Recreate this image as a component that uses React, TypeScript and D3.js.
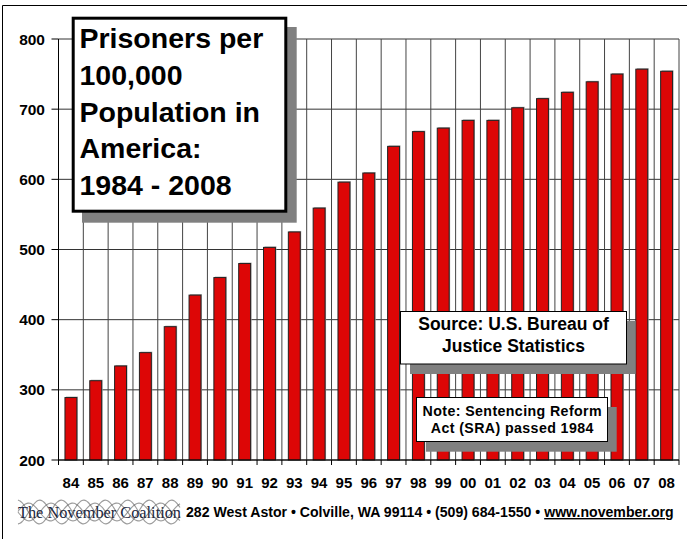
import React from "react";
import * as d3 from "d3";

const years = ["84","85","86","87","88","89","90","91","92","93","94","95","96","97","98","99","00","01","02","03","04","05","06","07","08"];
const rates = [289,313,334,353,390,435,460,480,503,525,559,596,609,647,668,673,684,684,702,715,724,739,750,757,754];
const yTicks = [200,300,400,500,600,700,800];
const titleLines = ["Prisoners per","100,000","Population in","America:","1984 - 2008"];
const sourceLines = ["Source: U.S. Bureau of","Justice Statistics"];
const noteLines = ["Note: Sentencing Reform","Act (SRA) passed 1984"];
const footerLogo = "The November Coalition";
const footerAddress = "282 West Astor \u2022 Colville, WA 99114 \u2022 (509) 684-1550 \u2022 ";
const footerUrl = "www.november.org";

const W = 687, H = 539;
const L = 58.5, R = 679, T = 39, B = 460;
const FONT = "'Liberation Sans', Arial, Helvetica, sans-serif";

export default function App() {
  const x = d3.scaleBand<string>().domain(years).range([L, R]).paddingInner(0.52).paddingOuter(0.26);
  const y = d3.scaleLinear().domain([200, 800]).range([B, T]);
  const step = x.step();
  const bounds = d3.range(years.length + 1).map((i) => L + i * step);

  const wave = d3.line<number>().x((d) => d).curve(d3.curveBasis);
  const waves = [0, 1, 2, 3].map((k) =>
    wave.y((t) => 512 + Math.sin((t - 18) / 7 + k * 1.6) * (9 + (k % 2) * 3))(d3.range(18, 182, 2)) as string
  );

  return (
    <svg width={W} height={H} style={{ position: "absolute", left: 0, top: 0, background: "#fff" }} fontFamily={FONT}>
      {/* outer frame */}
      <line x1={2.5} y1={5.5} x2={W} y2={5.5} stroke="#000" />
      <line x1={2.5} y1={5.5} x2={2.5} y2={H} stroke="#000" />

      {/* horizontal gridlines */}
      {yTicks.map((t) => (
        <line key={"h" + t} x1={L} x2={R} y1={y(t)} y2={y(t)} stroke="#333" strokeWidth={1} />
      ))}
      {/* y tick marks */}
      {yTicks.map((t) => (
        <line key={"yt" + t} x1={L - 7} x2={L} y1={y(t)} y2={y(t)} stroke="#000" />
      ))}
      {/* vertical gridlines */}
      {bounds.map((bx, i) => (
        <line key={"v" + i} x1={bx} x2={bx} y1={T} y2={B} stroke={i === 0 ? "#000" : "#444"} strokeWidth={1} />
      ))}
      {/* x tick marks */}
      {bounds.map((bx, i) => (
        <line key={"xt" + i} x1={bx} x2={bx} y1={B} y2={B + 5} stroke="#000" />
      ))}

      {/* bars */}
      {rates.map((v, i) => {
        const bx = x(years[i]) as number;
        const bw = x.bandwidth();
        return (
          <g key={"b" + i}>
            <rect x={bx + 1} y={y(v) - 1} width={bw} height={B - y(v) + 1} fill="#aaa" />
            <rect x={bx} y={y(v)} width={bw} height={B - y(v)} fill="#dd0606" stroke="#222" strokeWidth={1} />
          </g>
        );
      })}
      <line x1={L} x2={R} y1={B} y2={B} stroke="#000" />

      {/* y labels */}
      {yTicks.map((t) => (
        <text key={"yl" + t} x={45} y={y(t)} dy="0.36em" textAnchor="end" fontSize={15.5} fontWeight="bold">{t}</text>
      ))}
      {/* x labels */}
      {years.map((yr) => (
        <text key={"xl" + yr} x={(x(yr) as number) + x.bandwidth() / 2} y={488} textAnchor="middle" fontSize={15} fontWeight="bold">{yr}</text>
      ))}

      {/* title box */}
      <rect x={82} y={27} width={214.7} height={195.7} fill="#808080" />
      <rect x={73.2} y={18.2} width={212.6} height={193} fill="#fff" stroke="#000" strokeWidth={3} />
      {titleLines.map((s, i) => (
        <text key={"t" + i} x={79.5} y={48 + i * 36.8} fontSize={28.5} fontWeight="bold">{s}</text>
      ))}

      {/* source box */}
      <rect x={410} y={321} width={225.5} height={53} fill="#808080" />
      <rect x={400.5} y={311.5} width={226} height={52.5} fill="#fff" stroke="#000" strokeWidth={1} />
      {sourceLines.map((s, i) => (
        <text key={"s" + i} x={513.5} y={323.5 + i * 22.5} dy="0.36em" textAnchor="middle" fontSize={17.5} fontWeight="bold">{s}</text>
      ))}

      {/* note box */}
      <rect x={426} y={407} width={190.7} height={44.7} fill="#808080" />
      <rect x={416.5} y={397.5} width={191} height={44} fill="#fff" stroke="#000" strokeWidth={1} />
      {noteLines.map((s, i) => (
        <text key={"n" + i} x={512.3} y={410.5 + i * 17.5} dy="0.36em" textAnchor="middle" fontSize={14.2} fontWeight="bold" letterSpacing={0.4}>{s}</text>
      ))}

      {/* footer logo */}
      {waves.map((d, i) => (
        <path key={"w" + i} d={d} fill="none" stroke="#666" strokeWidth={1.1} opacity={0.65} />
      ))}
      <text x={18} y={518} fontFamily="'Liberation Serif', 'Times New Roman', serif" fontSize={17} fill="#1c2840" textLength={163} lengthAdjust="spacingAndGlyphs">{footerLogo}</text>
      {/* footer address + url */}
      <text x={186} y={517} fontSize={14.1} fontWeight="bold">
        {footerAddress}
        <tspan textDecoration="underline">{footerUrl}</tspan>
      </text>
    </svg>
  );
}
